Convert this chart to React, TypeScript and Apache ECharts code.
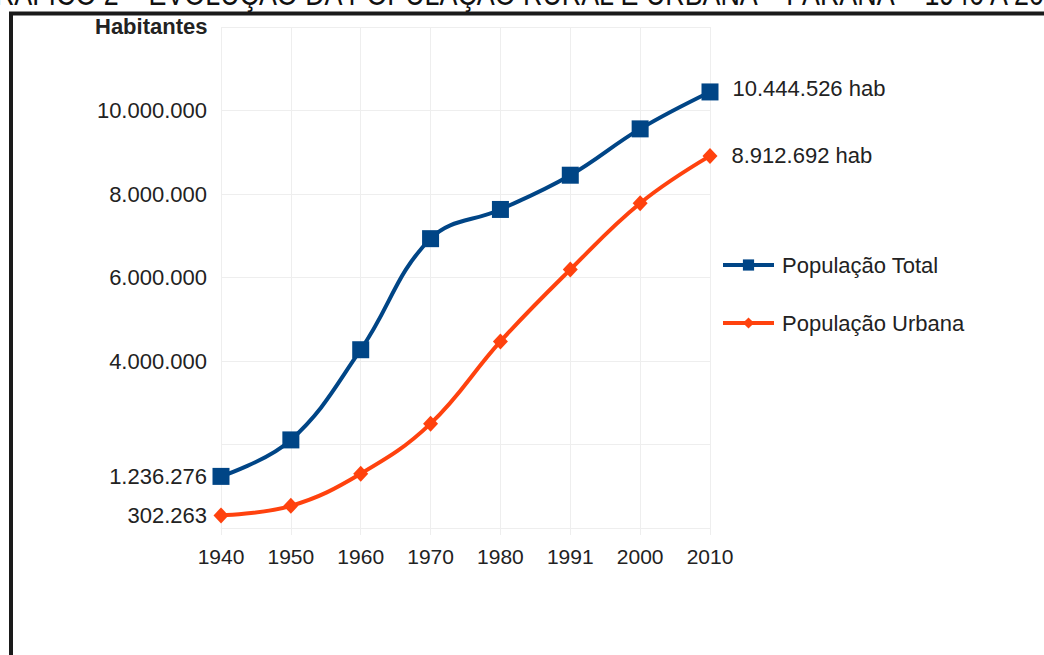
import React, { useEffect, useRef } from "react";
import * as echarts from "echarts";

// Census years on the x axis
const years = ["1940", "1950", "1960", "1970", "1980", "1991", "2000", "2010"];

// Inhabitants per census
const totalPopulation = [1236276, 2110000, 4270000, 6930000, 7630000, 8450000, 9560000, 10444526];
const urbanPopulation = [302263, 530000, 1300000, 2500000, 4470000, 6190000, 7780000, 8912692];

// Values that get a label on the y axis
const yLabelValues = [302263, 1236276, 4000000, 6000000, 8000000, 10000000];

const seriesNames = ["População Total", "População Urbana"];
const titleText = "GRÁFICO 2 – EVOLUÇÃO DA POPULAÇÃO RURAL E URBANA – PARANÁ – 1940 A 2010";
const yAxisTitle = "Habitantes";

const FONT = "Liberation Sans, Arial, sans-serif";
const TEXT = "#222222";
const GRID = "#eeeeee";
const BLUE = "#004586";
const ORANGE = "#ff420e";

const fmt = (v: number) => Math.round(v).toString().replace(/\B(?=(\d{3})+(?!\d))/g, ".");

// Only the last point of each line carries a value label
const withEndLabel = (values: number[], offset: [number, number]) =>
  values.map((v, i) =>
    i === values.length - 1
      ? {
          value: v,
          label: {
            show: true,
            position: "right",
            distance: 14,
            offset,
            formatter: (p: any) => `${fmt(p.value)} hab`,
            fontFamily: FONT,
            fontSize: 22,
            color: TEXT,
          },
        }
      : v
  );

export default function App() {
  const ref = useRef<HTMLDivElement>(null);

  useEffect(() => {
    document.body.style.margin = "0";
    const chart = echarts.init(ref.current!, null, { renderer: "svg" });
    chart.setOption({
      animation: false,
      backgroundColor: "#ffffff",
      grid: { left: 221, right: 334, top: 27, bottom: 127 },
      legend: {
        orient: "vertical",
        left: 721,
        top: 254,
        padding: 0,
        itemWidth: 51,
        itemHeight: 14,
        itemGap: 36,
        lineStyle: { width: 4 },
        textStyle: { fontFamily: FONT, fontSize: 22, color: TEXT, padding: [0, 0, 0, 3] },
        data: seriesNames,
      },
      xAxis: {
        type: "category",
        data: years,
        boundaryGap: false,
        axisLine: { show: true, lineStyle: { color: GRID, width: 1 } },
        axisTick: { show: true, length: 7, lineStyle: { color: GRID } },
        splitLine: { show: true, lineStyle: { color: GRID, width: 1 } },
        axisLabel: { fontFamily: FONT, fontSize: 21, color: TEXT, margin: 18 },
      },
      yAxis: {
        type: "value",
        min: 0,
        max: 12000000,
        interval: 2000000,
        axisLine: { show: false },
        axisTick: { show: false },
        splitLine: { show: true, lineStyle: { color: GRID, width: 1 } },
        axisLabel: {
          customValues: yLabelValues,
          formatter: (v: number) => fmt(v),
          fontFamily: FONT,
          fontSize: 22,
          color: TEXT,
          margin: 14,
        },
      },
      series: [
        {
          name: seriesNames[0],
          type: "line",
          data: withEndLabel(totalPopulation, [0, -3]),
          smooth: 0.4,
          symbol: "rect",
          symbolSize: 17,
          lineStyle: { color: BLUE, width: 4 },
          itemStyle: { color: BLUE },
          z: 3,
        },
        {
          name: seriesNames[1],
          type: "line",
          data: withEndLabel(urbanPopulation, [0, 0]),
          smooth: 0.4,
          symbol: "diamond",
          symbolSize: [15, 16],
          lineStyle: { color: ORANGE, width: 4 },
          itemStyle: { color: ORANGE },
          z: 2,
        },
      ],
      graphic: [
        {
          type: "text",
          x: -26,
          y: -7,
          scaleX: 0.79,
          style: {
            text: titleText,
            font: `34px ${FONT}`,
            fill: "#111111",
            verticalAlign: "middle",
          },
        },
        {
          type: "rect",
          shape: { x: 11, y: 13.5, width: 1200, height: 1000 },
          style: { fill: "none", stroke: "#1a1a1a", lineWidth: 4 },
          silent: true,
        },
        {
          type: "text",
          x: 95,
          y: 26,
          style: {
            text: yAxisTitle,
            font: `bold 22px ${FONT}`,
            fill: TEXT,
            verticalAlign: "middle",
          },
        },
      ],
    });
    return () => chart.dispose();
  }, []);

  return <div ref={ref} style={{ width: 1044, height: 655 }} />;
}
